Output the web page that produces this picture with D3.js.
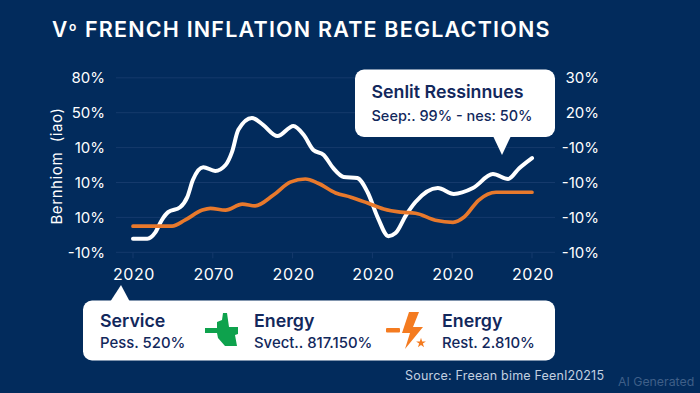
<!DOCTYPE html>
<html>
<head>
<meta charset="utf-8">
<script src="https://cdn.jsdelivr.net/npm/d3@7"></script>
<style>
  html, body { margin: 0; padding: 0; background: #022b5c; }
  svg { display: block; }
  text { font-family: "Inter", sans-serif; }
</style>
</head>
<body>
<div id="chart"></div>
<script>
const xTicks = [0, 1, 2, 3, 4, 5];
const xLabels = ["2020", "2070", "2020", "2020", "2020", "2020"];
const yTicks = [-10, 0, 10, 20, 30, 40];
const leftLabels = ["-10%", "10%", "10%", "10%", "50%", "80%"];
const rightLabels = ["-10%", "-10%", "-10%", "-10%", "20%", "30%"];

const whiteT = [0, .18, .28, .36, .44, .59, .68, .75, .88, 1.03, 1.16, 1.24, 1.32, 1.49, 1.63, 1.81, 2.01, 2.14, 2.26, 2.39, 2.51, 2.64, 2.81, 2.94, 3.07, 3.2, 3.29, 3.42, 3.54, 3.82, 4.02, 4.26, 4.51, 4.7, 4.84, 5];
const whiteV = [-6.1, -6.1, -4.3, -0.8, 1.5, 2.9, 5.8, 10.7, 14.4, 13.3, 15, 18.7, 25.1, 28.5, 26.5, 23.3, 26.2, 23.6, 19.3, 17.9, 14.1, 11.6, 11.3, 7.2, -0.2, -5.4, -4.5, 0.6, 4.4, 8.4, 6.7, 8.4, 12.4, 11, 14.1, 17];
const orangeT = [0, .31, .49, .65, .87, .97, 1.16, 1.37, 1.53, 1.76, 1.97, 2.16, 2.32, 2.54, 2.73, 2.94, 3.14, 3.35, 3.54, 3.79, 4.01, 4.15, 4.33, 4.55, 4.76, 5];
const orangeV = [-2.5, -2.5, -2.5, -0.8, 2.1, 2.6, 2.1, 3.8, 3.3, 6.4, 10.1, 11, 9.8, 7, 5.8, 4.1, 2.4, 1.5, 1.2, -0.8, -1.4, 0.1, 4.9, 7.2, 7.2, 7.2];

const width = 700;
const height = 393;
const navy = "#12285c";

const svg = d3.select("#chart").append("svg")
  .attr("width", width)
  .attr("height", height);

const x = d3.scaleLinear().domain([0, 5]).range([133, 532]);
const y = d3.scaleLinear().domain([-10, 40]).range([252.3, 77.8]);

// gridlines
svg.selectAll(".grid").data(yTicks).join("line")
  .attr("x1", 116).attr("x2", 555)
  .attr("y1", d => y(d)).attr("y2", d => y(d))
  .attr("stroke", "#153a6c").attr("stroke-width", 1);

svg.selectAll(".tick").data(xTicks).join("line")
  .attr("x1", d => x(d)).attr("x2", d => x(d))
  .attr("y1", y(-10)).attr("y2", y(-10) + 6)
  .attr("stroke", "#153a6c");

// title
svg.append("text").attr("x", 52).attr("y", 37)
  .attr("fill", "#fff").attr("font-size", 21).attr("font-weight", 600).text("V");
svg.append("text").attr("x", 69).attr("y", 31)
  .attr("fill", "#fff").attr("font-size", 12).attr("font-weight", 600).text("o");
svg.append("text").attr("x", 85).attr("y", 37)
  .attr("fill", "#fff").attr("font-size", 21.5).attr("font-weight", 600).attr("letter-spacing", 1.2)
  .text("FRENCH INFLATION RATE BEGLACTIONS");

// axis labels
svg.selectAll(".yl").data(yTicks).join("text")
  .attr("x", 105).attr("y", d => y(d) + 5.5)
  .attr("text-anchor", "end").attr("fill", "#fff").attr("font-size", 15)
  .text((d, i) => leftLabels[i]);

svg.selectAll(".yr").data(yTicks).join("text")
  .attr("x", 599).attr("y", d => y(d) + 5.5)
  .attr("text-anchor", "end").attr("fill", "#fff").attr("font-size", 15)
  .text((d, i) => rightLabels[i]);

svg.selectAll(".xl").data(xTicks).join("text")
  .attr("x", d => x(d) + 1).attr("y", 279.5)
  .attr("text-anchor", "middle").attr("fill", "#fff").attr("font-size", 16).attr("letter-spacing", 0.6)
  .text((d, i) => xLabels[i]);

svg.append("text")
  .attr("transform", "translate(62,166) rotate(-90)")
  .attr("text-anchor", "middle").attr("fill", "#fff").attr("font-size", 15)
  .attr("letter-spacing", 0.6).attr("xml:space", "preserve")
  .text("Bernhiom  (iao)");

// lines
const line = d3.line().x(d => x(d[0])).y(d => y(d[1])).curve(d3.curveMonotoneX);

svg.append("path").datum(d3.zip(whiteT, whiteV))
  .attr("d", line).attr("fill", "none").attr("stroke", "#fff")
  .attr("stroke-width", 4).attr("stroke-linecap", "round");

svg.append("path").datum(d3.zip(orangeT, orangeV))
  .attr("d", line).attr("fill", "none").attr("stroke", "#e8792c")
  .attr("stroke-width", 3.7).attr("stroke-linecap", "round");

// callout
svg.append("rect").attr("x", 355).attr("y", 69.5).attr("width", 200).attr("height", 67.5).attr("rx", 9).attr("fill", "#fff");
svg.append("path").attr("d", "M493,136 L511,136 L502,155 Z").attr("fill", "#fff");
svg.append("text").attr("x", 371.5).attr("y", 98).attr("fill", navy).attr("font-size", 17.8).attr("font-weight", 600).text("Senlit Ressinnues");
svg.append("text").attr("x", 371.5).attr("y", 121).attr("fill", navy).attr("font-size", 14.5).attr("font-weight", 500).text("Seep:. 99% - nes: 50%");

// legend box
svg.append("rect").attr("x", 83).attr("y", 300.5).attr("width", 472).attr("height", 60).attr("rx", 9).attr("fill", "#fff");
svg.append("path").attr("d", "M110,302 L121,285 L130,302 Z").attr("fill", "#fff");

const legendX = [100, 254, 442];
const legendTop = ["Service", "Energy", "Energy"];
const legendSub = ["Pess. 520%", "Svect.. 817.150%", "Rest. 2.810%"];

svg.selectAll(".lt").data(legendX).join("text")
  .attr("x", d => d).attr("y", 327)
  .attr("fill", navy).attr("font-size", 17.8).attr("font-weight", 600)
  .text((d, i) => legendTop[i]);
svg.selectAll(".ls").data(legendX).join("text")
  .attr("x", d => d).attr("y", 348)
  .attr("fill", navy).attr("font-size", 14.9).attr("font-weight", 500)
  .text((d, i) => legendSub[i]);

// legend icons
svg.append("path")
  .attr("d", "M205,328 L217,328 L217,322 L222,320 L223,313 L227,313 L229,327 L238,327 L238,334 L235,335 L237,346 L225,346 L218,338 L217,333 L205,333 Z")
  .attr("fill", "#0ea24d");
svg.append("path")
  .attr("d", "M409,312 L419,312 L413,327 L423,327 L405,349 L410,333 L402,333 Z")
  .attr("fill", "#f47b20");
svg.append("rect").attr("x", 386).attr("y", 328).attr("width", 14).attr("height", 4.5).attr("rx", 1).attr("fill", "#f47b20");
svg.append("path").attr("d", d3.symbol(d3.symbolStar, 30)).attr("transform", "translate(421,343)").attr("fill", "#f47b20");

// source
svg.append("text").attr("x", 405).attr("y", 380).attr("fill", "#c3d0e0").attr("font-size", 12.5).attr("letter-spacing", 0.2).text("Source: Freean bime Feenl20215");
svg.append("text").attr("x", 618).attr("y", 386).attr("fill", "#3f5f88").attr("font-size", 12.3).text("AI Generated");
</script>
</body>
</html>
